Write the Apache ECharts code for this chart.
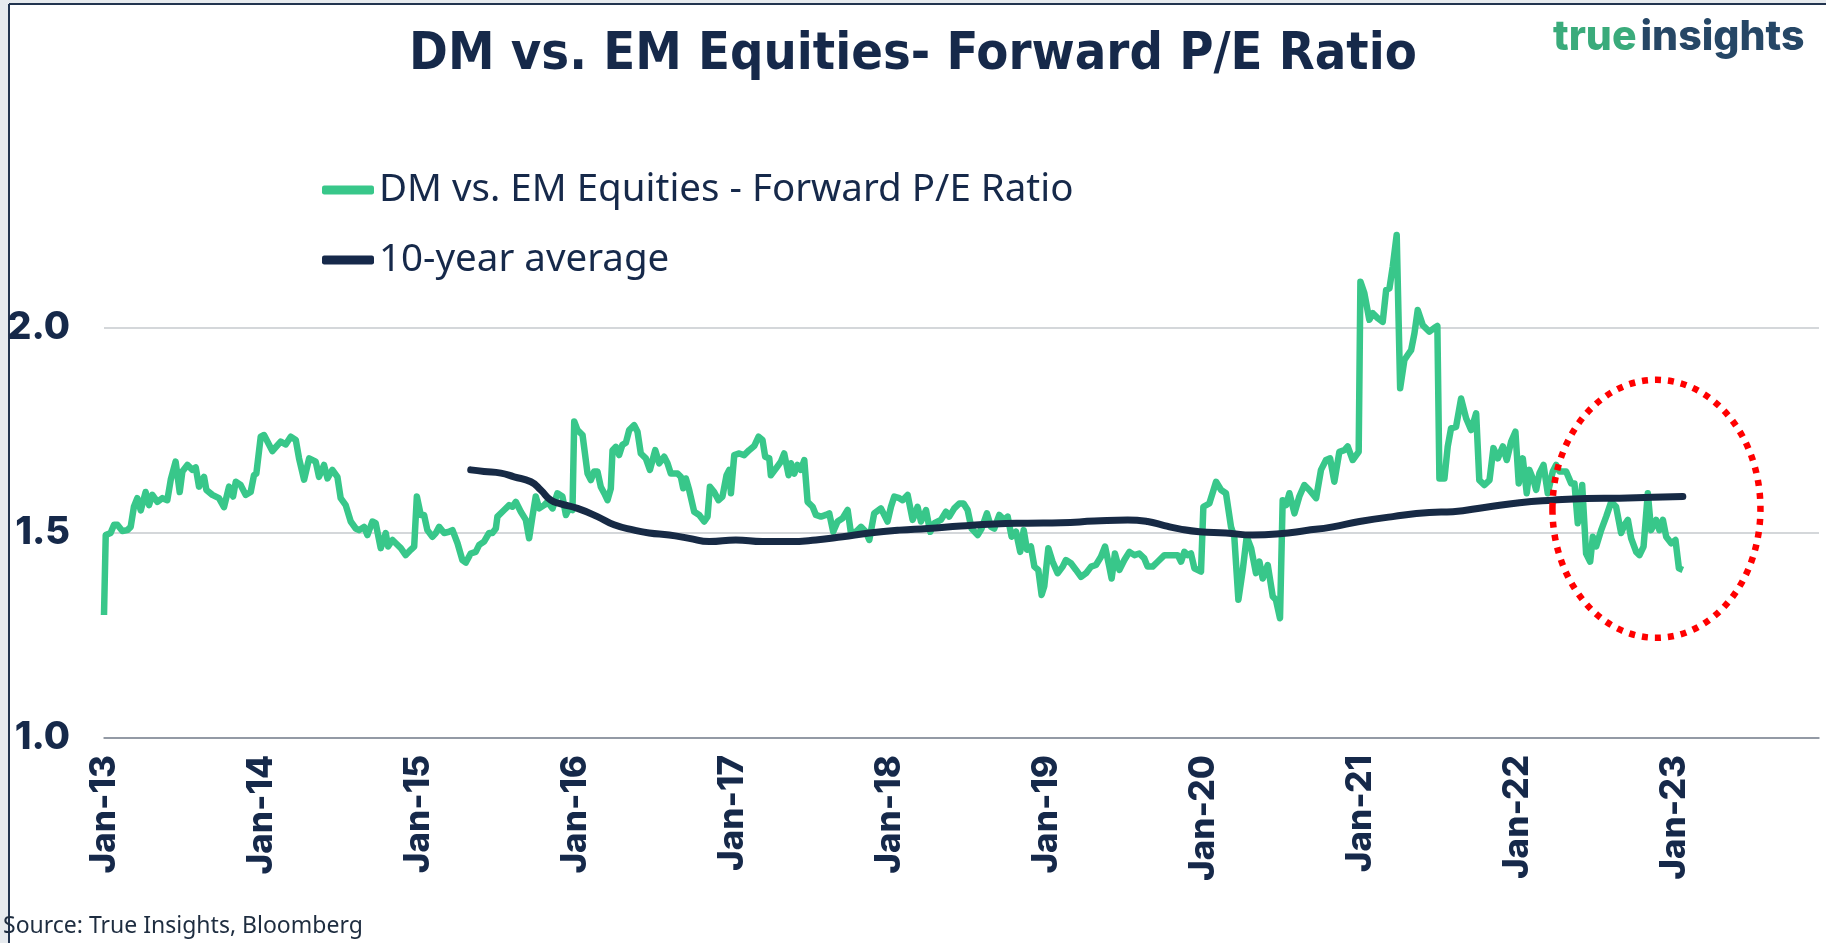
<!DOCTYPE html>
<html>
<head>
<meta charset="utf-8">
<title>DM vs. EM Equities- Forward P/E Ratio</title>
<script src="https://cdn.jsdelivr.net/npm/echarts@6/dist/echarts.min.js"></script>
<style>
    html, body {margin: 0; padding: 0; background: #fff;}
    #g-echart {width: 1826px; height: 943px;}
</style>
</head>
<body>
<div id="g-echart"></div>
<script>
// dates as decimal years (2013.5 = mid 2013)
var peDates = [
    2013.000, 2013.011, 2013.042, 2013.064, 2013.085, 2013.117, 2013.149, 2013.170, 2013.191, 2013.212,
    2013.234, 2013.265, 2013.287, 2013.308, 2013.340, 2013.372, 2013.403, 2013.425, 2013.456, 2013.482,
    2013.499, 2013.531, 2013.563, 2013.584, 2013.605, 2013.637, 2013.652, 2013.690, 2013.732, 2013.764,
    2013.796, 2013.822, 2013.839, 2013.870, 2013.902, 2013.934, 2013.955, 2013.970, 2013.998, 2014.019,
    2014.072, 2014.125, 2014.157, 2014.189, 2014.221, 2014.242, 2014.274, 2014.306, 2014.348, 2014.369,
    2014.401, 2014.423, 2014.454, 2014.486, 2014.507, 2014.539, 2014.571, 2014.603, 2014.624, 2014.656,
    2014.677, 2014.709, 2014.730, 2014.762, 2014.794, 2014.809, 2014.837, 2014.858, 2014.890, 2014.921,
    2014.953, 2014.975, 2014.992, 2015.017, 2015.038, 2015.059, 2015.091, 2015.113, 2015.134, 2015.166,
    2015.197, 2015.219, 2015.251, 2015.282, 2015.304, 2015.335, 2015.367, 2015.389, 2015.420, 2015.452,
    2015.473, 2015.495, 2015.505, 2015.548, 2015.580, 2015.601, 2015.622, 2015.654, 2015.686, 2015.707,
    2015.728, 2015.749, 2015.771, 2015.803, 2015.824, 2015.856, 2015.887, 2015.919, 2015.941, 2015.962,
    2015.983, 2015.994, 2016.015, 2016.047, 2016.079, 2016.100, 2016.121, 2016.142, 2016.163, 2016.185,
    2016.206, 2016.227, 2016.238, 2016.259, 2016.280, 2016.301, 2016.323, 2016.344, 2016.376, 2016.397,
    2016.418, 2016.450, 2016.476, 2016.510, 2016.535, 2016.567, 2016.588, 2016.609, 2016.652, 2016.673,
    2016.688, 2016.705, 2016.726, 2016.758, 2016.790, 2016.822, 2016.843, 2016.858, 2016.885, 2016.913,
    2016.938, 2016.964, 2016.981, 2016.992, 2017.013, 2017.045, 2017.076, 2017.108, 2017.140, 2017.168,
    2017.193, 2017.210, 2017.236, 2017.246, 2017.278, 2017.310, 2017.331, 2017.359, 2017.374, 2017.395,
    2017.416, 2017.437, 2017.459, 2017.480, 2017.512, 2017.533, 2017.565, 2017.597, 2017.618, 2017.643,
    2017.671, 2017.703, 2017.735, 2017.756, 2017.788, 2017.820, 2017.851, 2017.873, 2017.904, 2017.947,
    2017.989, 2018.011, 2018.032, 2018.064, 2018.085, 2018.117, 2018.149, 2018.180, 2018.202, 2018.234,
    2018.261, 2018.287, 2018.329, 2018.361, 2018.382, 2018.414, 2018.446, 2018.473, 2018.499, 2018.524,
    2018.563, 2018.588, 2018.622, 2018.648, 2018.669, 2018.701, 2018.732, 2018.754, 2018.779, 2018.807,
    2018.834, 2018.856, 2018.877, 2018.902, 2018.924, 2018.949, 2018.970, 2018.987, 2019.013, 2019.040,
    2019.072, 2019.104, 2019.125, 2019.157, 2019.189, 2019.221, 2019.253, 2019.285, 2019.316, 2019.348,
    2019.374, 2019.401, 2019.416, 2019.437, 2019.465, 2019.497, 2019.529, 2019.561, 2019.592, 2019.624,
    2019.645, 2019.677, 2019.709, 2019.752, 2019.805, 2019.837, 2019.858, 2019.879, 2019.900, 2019.921,
    2019.943, 2019.985, 2020.000, 2020.038, 2020.081, 2020.113, 2020.144, 2020.176, 2020.197, 2020.223,
    2020.251, 2020.276, 2020.304, 2020.335, 2020.357, 2020.378, 2020.410, 2020.442, 2020.462, 2020.488,
    2020.505, 2020.527, 2020.548, 2020.580, 2020.611, 2020.643, 2020.675, 2020.718, 2020.749, 2020.781,
    2020.807, 2020.834, 2020.866, 2020.898, 2020.919, 2020.951, 2020.989, 2021.000, 2021.025, 2021.057,
    2021.079, 2021.110, 2021.142, 2021.164, 2021.185, 2021.206, 2021.231, 2021.253, 2021.280, 2021.301,
    2021.323, 2021.344, 2021.365, 2021.397, 2021.439, 2021.470, 2021.490, 2021.503, 2021.535, 2021.556,
    2021.577, 2021.609, 2021.641, 2021.673, 2021.705, 2021.737, 2021.757, 2021.790, 2021.822, 2021.847,
    2021.875, 2021.907, 2021.932, 2021.960, 2021.987, 2022.008, 2022.034, 2022.059, 2022.076, 2022.102,
    2022.119, 2022.140, 2022.166, 2022.193, 2022.225, 2022.246, 2022.268, 2022.310, 2022.342, 2022.363,
    2022.384, 2022.412, 2022.437, 2022.463, 2022.480, 2022.501, 2022.533, 2022.565, 2022.597, 2022.628,
    2022.660, 2022.682, 2022.703, 2022.724, 2022.756, 2022.777, 2022.803, 2022.830, 2022.851, 2022.883,
    2022.904, 2022.926, 2022.947, 2022.979, 2023.006, 2023.028, 2023.053
];
var peValues = [
    1.300, 1.495, 1.500, 1.520, 1.520, 1.505, 1.507, 1.515, 1.565, 1.585,
    1.555, 1.600, 1.568, 1.593, 1.576, 1.585, 1.580, 1.630, 1.674, 1.600,
    1.650, 1.666, 1.654, 1.660, 1.613, 1.637, 1.605, 1.593, 1.585, 1.563,
    1.613, 1.589, 1.625, 1.617, 1.593, 1.600, 1.641, 1.645, 1.735, 1.739,
    1.700, 1.723, 1.716, 1.735, 1.727, 1.682, 1.630, 1.682, 1.674, 1.637,
    1.666, 1.633, 1.654, 1.637, 1.585, 1.568, 1.528, 1.511, 1.507, 1.515,
    1.495, 1.528, 1.524, 1.463, 1.500, 1.467, 1.483, 1.475, 1.463, 1.446,
    1.459, 1.467, 1.589, 1.544, 1.544, 1.507, 1.491, 1.500, 1.515, 1.500,
    1.503, 1.507, 1.475, 1.434, 1.428, 1.450, 1.454, 1.471, 1.479, 1.500,
    1.500, 1.511, 1.540, 1.556, 1.568, 1.564, 1.576, 1.552, 1.532, 1.487,
    1.540, 1.589, 1.560, 1.568, 1.576, 1.560, 1.597, 1.589, 1.544, 1.560,
    1.556, 1.772, 1.751, 1.739, 1.645, 1.629, 1.650, 1.650, 1.613, 1.597,
    1.580, 1.608, 1.702, 1.710, 1.690, 1.715, 1.720, 1.751, 1.763, 1.747,
    1.694, 1.682, 1.654, 1.702, 1.670, 1.686, 1.670, 1.645, 1.645, 1.637,
    1.609, 1.633, 1.605, 1.552, 1.544, 1.528, 1.540, 1.613, 1.600, 1.580,
    1.589, 1.641, 1.654, 1.597, 1.690, 1.694, 1.690, 1.702, 1.712, 1.735,
    1.727, 1.686, 1.682, 1.641, 1.657, 1.674, 1.694, 1.641, 1.670, 1.645,
    1.666, 1.654, 1.678, 1.576, 1.564, 1.544, 1.540, 1.544, 1.548, 1.503,
    1.528, 1.536, 1.556, 1.500, 1.503, 1.515, 1.503, 1.483, 1.548, 1.560,
    1.528, 1.564, 1.589, 1.585, 1.580, 1.593, 1.532, 1.564, 1.528, 1.556,
    1.503, 1.524, 1.532, 1.552, 1.540, 1.560, 1.572, 1.572, 1.556, 1.511,
    1.495, 1.511, 1.548, 1.515, 1.511, 1.544, 1.532, 1.540, 1.491, 1.503,
    1.454, 1.507, 1.459, 1.467, 1.418, 1.410, 1.349, 1.370, 1.463, 1.430,
    1.402, 1.418, 1.434, 1.426, 1.410, 1.393, 1.402, 1.418, 1.422, 1.442,
    1.467, 1.418, 1.389, 1.450, 1.410, 1.434, 1.454, 1.446, 1.450, 1.438,
    1.418, 1.418, 1.430, 1.446, 1.446, 1.446, 1.430, 1.454, 1.446, 1.450,
    1.414, 1.406, 1.564, 1.572, 1.625, 1.605, 1.597, 1.515, 1.491, 1.337,
    1.410, 1.491, 1.463, 1.402, 1.430, 1.389, 1.422, 1.345, 1.337, 1.292,
    1.580, 1.568, 1.597, 1.548, 1.589, 1.617, 1.605, 1.585, 1.654, 1.678,
    1.682, 1.625, 1.698, 1.702, 1.711, 1.678, 1.698, 2.113, 2.085, 2.020,
    2.036, 2.024, 2.015, 2.093, 2.097, 2.150, 2.227, 1.853, 1.922, 1.934,
    1.946, 1.987, 2.044, 2.007, 1.991, 2.000, 2.005, 1.633, 1.633, 1.711,
    1.755, 1.759, 1.828, 1.780, 1.751, 1.792, 1.629, 1.617, 1.629, 1.707,
    1.682, 1.711, 1.678, 1.723, 1.747, 1.621, 1.682, 1.597, 1.654, 1.629,
    1.605, 1.646, 1.666, 1.597, 1.650, 1.666, 1.650, 1.650, 1.621, 1.621,
    1.524, 1.617, 1.450, 1.430, 1.491, 1.467, 1.507, 1.540, 1.576, 1.564,
    1.500, 1.520, 1.532, 1.487, 1.454, 1.446, 1.467, 1.597, 1.507, 1.532,
    1.507, 1.532, 1.491, 1.475, 1.483, 1.414, 1.410
];

var avgDates = [
    2015.335, 2015.420, 2015.527, 2015.611, 2015.718, 2015.781, 2015.845, 2015.909, 2016.015, 2016.142,
    2016.248, 2016.376, 2016.471, 2016.599, 2016.726, 2016.854, 2017.023, 2017.193, 2017.363, 2017.533,
    2017.703, 2017.873, 2018.064, 2018.244, 2018.456, 2018.669, 2018.881, 2019.093, 2019.306, 2019.518,
    2019.645, 2019.752, 2019.847, 2019.975, 2020.144, 2020.314, 2020.484, 2020.654, 2020.824, 2020.994,
    2021.206, 2021.439, 2021.588, 2021.800, 2022.013, 2022.225, 2022.437, 2022.650, 2022.862, 2023.053
];
var avgValues = [
    1.654, 1.650, 1.646, 1.637, 1.625, 1.605, 1.580, 1.571, 1.560, 1.540,
    1.520, 1.507, 1.500, 1.495, 1.487, 1.479, 1.483, 1.479, 1.479, 1.483,
    1.491, 1.500, 1.507, 1.511, 1.517, 1.522, 1.524, 1.525, 1.529, 1.532,
    1.528, 1.518, 1.510, 1.503, 1.500, 1.495, 1.498, 1.506, 1.515, 1.528,
    1.540, 1.550, 1.552, 1.563, 1.574, 1.580, 1.584, 1.585, 1.587, 1.589
];

var yTicks = [1.0, 1.5, 2.0];

// 红圈标注的位置 (数据坐标)
var circleCenter = [2022.885, 1.559];

var NAVY = '#16294a';
var GREEN = '#38c78a';

var zip = function (xs, ys) {
    return xs.map(function (x, i) {
        return [x, ys[i]];
    });
};

var mychart = echarts.init(document.getElementById('g-echart'));

var option = {
    animation: false,
    backgroundColor: '#ffffff',
    title: {
        text: 'DM vs. EM Equities- Forward P/E Ratio',
        left: 'center',
        top: 24,
        textStyle: {
            fontFamily: '"Liberation Sans Narrow", "DejaVu Sans Condensed", sans-serif',
            fontWeight: 'bold',
            fontSize: 52,
            color: NAVY
        }
    },
    legend: {
        orient: 'vertical',
        left: 317,
        top: 165,
        itemWidth: 52,
        itemHeight: 9,
        itemGap: 30,
        icon: 'roundRect',
        textStyle: {
            fontFamily: '"Noto Sans", sans-serif',
            fontSize: 38.5,
            lineHeight: 40,
            color: NAVY
        },
        data: ['DM vs. EM Equities - Forward P/E Ratio', '10-year average']
    },
    grid: {
        left: 104,
        right: 7,
        top: 328,
        bottom: 205
    },
    xAxis: {
        type: 'value',
        min: 2013,
        max: 2023.92,
        interval: 1,
        axisLine: {
            lineStyle: {color: '#7d8794', width: 1.5}
        },
        axisTick: {show: false},
        splitLine: {show: false},
        axisLabel: {
            rotate: 90,
            margin: 17,
            showMaxLabel: false,
            fontFamily: 'Inter, sans-serif',
            fontWeight: 800,
            fontSize: 35,
            color: NAVY,
            formatter: function (v) {
                if (Math.abs(v - Math.round(v)) > 0.001) return '';
                return 'Jan-' + String(Math.round(v) % 100);
            }
        }
    },
    yAxis: {
        type: 'value',
        min: yTicks[0],
        max: yTicks[yTicks.length - 1],
        interval: 0.5,
        axisLine: {show: false},
        axisTick: {show: false},
        splitLine: {
            lineStyle: {color: '#c6cace', width: 1.5}
        },
        axisLabel: {
            margin: 34,
            fontFamily: 'Inter, sans-serif',
            fontWeight: 800,
            fontSize: 38,
            color: NAVY,
            formatter: function (v) {
                return v.toFixed(1);
            }
        }
    },
    series: [
        {
            name: 'DM vs. EM Equities - Forward P/E Ratio',
            type: 'line',
            symbol: 'none',
            clip: false,
            color: GREEN,
            lineStyle: {width: 6.5, color: GREEN, join: 'round'},
            data: zip(peDates, peValues),
            z: 3
        },
        {
            name: '10-year average',
            type: 'line',
            symbol: 'none',
            smooth: true,
            clip: false,
            color: NAVY,
            lineStyle: {width: 7, color: '#172a45', cap: 'round'},
            data: zip(avgDates, avgValues),
            z: 4
        }
    ]
};

mychart.setOption(option);

// 边框 + logo + 来源 + 红色虚线圈
var c = mychart.convertToPixel({gridIndex: 0}, circleCenter);
mychart.setOption({
    graphic: [
        {type: 'rect', silent: true, shape: {x: 0, y: 0, width: 9, height: 943}, style: {fill: '#e6eaee'}},
        {type: 'rect', silent: true, shape: {x: 0, y: 0, width: 1826, height: 4}, style: {fill: '#e6eaee'}},
        {type: 'line', silent: true, shape: {x1: 9, y1: 4, x2: 1826, y2: 4}, style: {stroke: '#22344f', lineWidth: 2}},
        {type: 'line', silent: true, shape: {x1: 9, y1: 4, x2: 9, y2: 943}, style: {stroke: '#22344f', lineWidth: 2}},
        {
            type: 'text',
            silent: true,
            x: 1553,
            y: 17,
            style: {
                text: '{a|true}{s| }{b|insights}',
                rich: {
                    a: {fontFamily: 'Inter, sans-serif', fontWeight: 800, fontSize: 41, fill: '#3aab7b'},
                    s: {fontFamily: 'Inter, sans-serif', fontSize: 14},
                    b: {fontFamily: 'Inter, sans-serif', fontWeight: 800, fontSize: 41, fill: '#264766'}
                }
            }
        },
        {
            type: 'text',
            silent: true,
            x: 3,
            y: 915,
            style: {
                text: 'Source: True Insights, Bloomberg',
                fontFamily: '"Noto Sans", sans-serif',
                fontSize: 23,
                fill: '#1e2d40'
            }
        },
        {
            type: 'ellipse',
            silent: true,
            z: 10,
            shape: {cx: c[0], cy: c[1], rx: 104, ry: 129},
            style: {fill: 'none', stroke: '#ff0000', lineWidth: 6.5, lineDash: [6, 7]}
        }
    ]
});
</script>
</body>
</html>
